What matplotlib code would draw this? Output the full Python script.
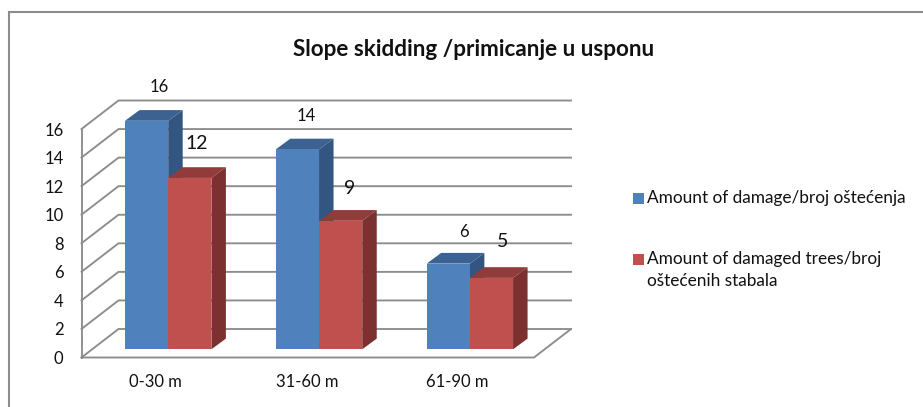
import matplotlib
matplotlib.use("Agg")
import matplotlib.pyplot as plt
from matplotlib.patches import Polygon, Rectangle

categories = ["0-30 m", "31-60 m", "61-90 m"]
damage = [16, 14, 6]
trees = [12, 9, 5]
series_names = ["Amount of damage/broj oštećenja",
                "Amount of damaged trees/broj\noštećenih stabala"]
y_ticks = list(range(0, 17, 2))
title = "Slope skidding /primicanje u usponu"

W, H = 923, 407
plt.rcParams['font.family'] = ['Lato', 'DejaVu Sans']
fig = plt.figure(figsize=(W / 100, H / 100), dpi=100, facecolor="white")

# plot box: front plane of the 3D frame, in pixels
L, R, B, T = 81.5, 534.0, 357.5, 129.0
ax = fig.add_axes([L / W, 1 - B / H, (R - L) / W, (B - T) / H])
ax.set_xlim(0, 3)
ax.set_ylim(0, 16)
ax.axis("off")
ux = (R - L) / 3
uy = (B - T) / 16

def dx(p):
    return p / ux

def dy(p):
    return p / uy

GRID = "#8c8c8c"
TEXT = "#111111"
DEPTH_X, DEPTH_Y = dx(37), dy(28.5)
for v in y_ticks:
    ax.plot([0, DEPTH_X, 3 + DEPTH_X], [v, v + DEPTH_Y, v + DEPTH_Y],
            color=GRID, lw=1.35, clip_on=False, zorder=1, solid_joinstyle="miter")
    ax.text(dx(-18), v - dy(1.5), str(v), ha="right", va="center", fontsize=12, color=TEXT, clip_on=False)
ax.plot([0, 0], [0, 16], color=GRID, lw=1.35, clip_on=False, zorder=1)
ax.plot([0, 3, 3 + DEPTH_X], [0, 0, DEPTH_Y], color=GRID, lw=1.35, clip_on=False, zorder=1,
        solid_joinstyle="miter")

BAR_W = dx(43.2)
BX, BY = dx(14.5), dy(10.7)
BASE = dy(8.2)
GAP0 = dx(125 - L)

def bar3d(x, v, front, top, side, z):
    y0, y1 = BASE, BASE + v
    x1 = x + BAR_W
    ax.add_patch(Polygon([(x1, y0), (x1 + BX, y0 + BY), (x1 + BX, y1 + BY), (x1, y1)],
                         fc=side, ec="none", clip_on=False, zorder=z))
    ax.add_patch(Polygon([(x, y1), (x + BX, y1 + BY), (x1 + BX, y1 + BY), (x1, y1)],
                         fc=top, ec="none", clip_on=False, zorder=z))
    ax.add_patch(Rectangle((x, y0), BAR_W, v, fc=front, ec="none", clip_on=False, zorder=z + 0.1))

BLUE = ("#4f81bd", "#3c6291", "#335581")
RED = ("#c0504d", "#913c3a", "#7a3130")
for i, (a, b) in enumerate(zip(damage, trees)):
    x = GAP0 + i
    bar3d(x, a, *BLUE, 3)
    bar3d(x + BAR_W, b, *RED, 4)
    ax.text(i + 0.5 - dx(1), -dy(24.5), categories[i], ha="center", va="center", fontsize=12,
            color=TEXT, clip_on=False)

# data labels, placed as in the reference (pixel offsets from each bar's top-left)
label_a = [(34, 33.7), (30, 33), (37, 31.5)]
label_b = [(72, 34), (74, 32.5), (76, 36.5)]
for i, (a, off) in enumerate(zip(damage, label_a)):
    ax.text(GAP0 + i + dx(off[0]), BASE + a + dy(off[1]), str(a), ha="center", va="center",
            fontsize=12, color=TEXT, clip_on=False, zorder=6)
for i, (b, off) in enumerate(zip(trees, label_b)):
    ax.text(GAP0 + i + dx(off[0]), BASE + b + dy(off[1]), str(b), ha="center", va="center",
            fontsize=14, color=TEXT, clip_on=False, zorder=6)

# overall frame, title and legend drawn in figure pixels
ov = fig.add_axes([0, 0, 1, 1], zorder=10)
ov.set_xlim(0, W)
ov.set_ylim(H, 0)
ov.axis("off")
ov.plot([8.5, 8.5, W], [H, 12, 12], color="#8c8c8c", lw=1.5, solid_joinstyle="miter")
ov.text(474, 50, title, ha="center", va="center", fontsize=16.2, fontweight="bold", color=TEXT)
ov.add_patch(Rectangle((633, 193), 11, 11, fc=BLUE[0], ec="none"))
ov.add_patch(Rectangle((633, 254), 11, 11, fc=RED[0], ec="none"))
ov.text(647, 198, series_names[0], ha="left", va="center", fontsize=12.4, color=TEXT)
ov.text(647, 270, series_names[1], ha="left", va="center", fontsize=12.4, color=TEXT,
        linespacing=1.46)

fig.savefig("out.png", dpi=100)
